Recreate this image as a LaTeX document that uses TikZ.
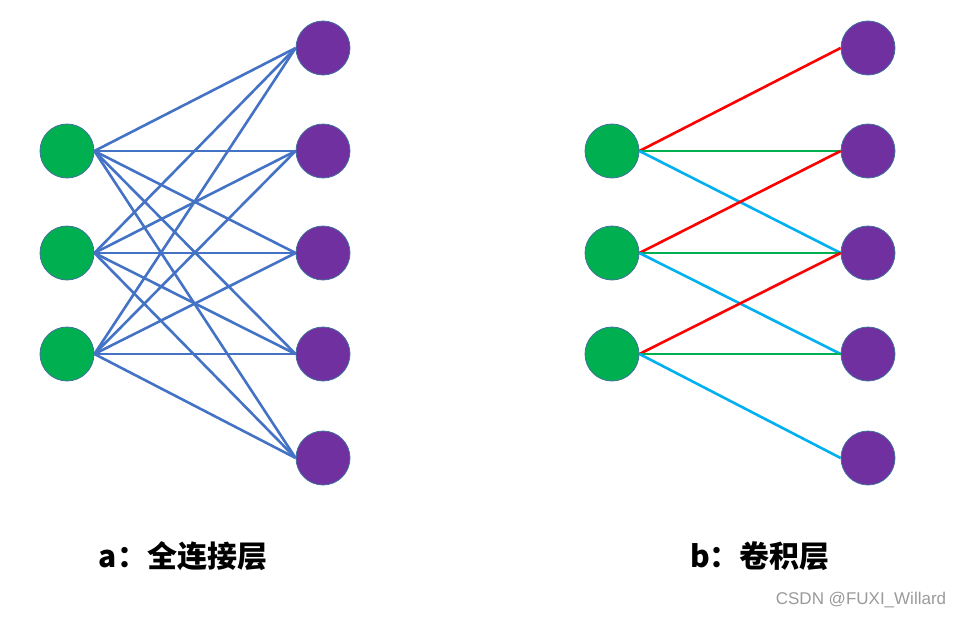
\documentclass[tikz,border=0pt]{standalone}
\usepackage{fontspec}
\setmainfont{Liberation Sans}
\newfontfamily\cjkfont{Noto Sans CJK SC}
\usetikzlibrary{positioning}

\definecolor{nodegreen}{HTML}{00B050}
\definecolor{nodepurple}{HTML}{7030A0}
\definecolor{rimblue}{HTML}{41719C}
\definecolor{linkblue}{HTML}{4472C4}
\definecolor{linkred}{HTML}{FF0000}
\definecolor{linkgreen}{HTML}{00B050}
\definecolor{linkcyan}{HTML}{00B0F0}
\definecolor{markgray}{HTML}{9A9A9A}

\begin{document}
\begin{tikzpicture}[x=1pt, y=-1pt,
    neuron/.style={circle, draw=rimblue, line width=0.8pt, minimum size=54pt, inner sep=0pt},
    inunit/.style={neuron, fill=nodegreen},
    outunit/.style={neuron, fill=nodepurple},
    link/.style={line width=2.6pt},
    caption/.style={font=\cjkfont\bfseries\fontsize{30}{36}\selectfont, text=black}]
        \useasboundingbox (0,0) rectangle (968,618);

        % Fully connected layer
        \foreach \j/\y in {1/48,2/151,3/253,4/354,5/458}
            \node[outunit] (p\j) at (323,\y) {};
        \foreach \i/\y in {1/151,2/253,3/354}
            \node[inunit] (g\i) at (67,\y) {};
        \foreach \i in {1,2,3} {
            \foreach \j in {1,...,5}
                \draw[link, linkblue] (g\i.east) -- (p\j.west);
        }
        \node[caption] (capa) at (183,556) {a：全连接层};

        % Convolutional layer
        \foreach \j/\y in {1/48,2/151,3/253,4/354,5/458}
            \node[outunit] (cp\j) at (868,\y) {};
        \foreach \i/\y in {1/151,2/253,3/354}
            \node[inunit] (cg\i) at (612,\y) {};
        \foreach \i/\a/\b in {1/2/3,2/3/4,3/4/5} {
            \draw[link, linkred] (cg\i.east) -- (cp\i.west);
            \draw[link, linkgreen] (cg\i.east) -- (cp\a.west);
            \draw[link, linkcyan] (cg\i.east) -- (cp\b.west);
        }
        \node[caption] (capb) at (760,556) {b：卷积层};

        % Watermark
        \node[font=\fontsize{17}{20}\selectfont, text=markgray] (mark) at (861,600) {CSDN @FUXI\_Willard};
    \end{tikzpicture}
\end{document}
